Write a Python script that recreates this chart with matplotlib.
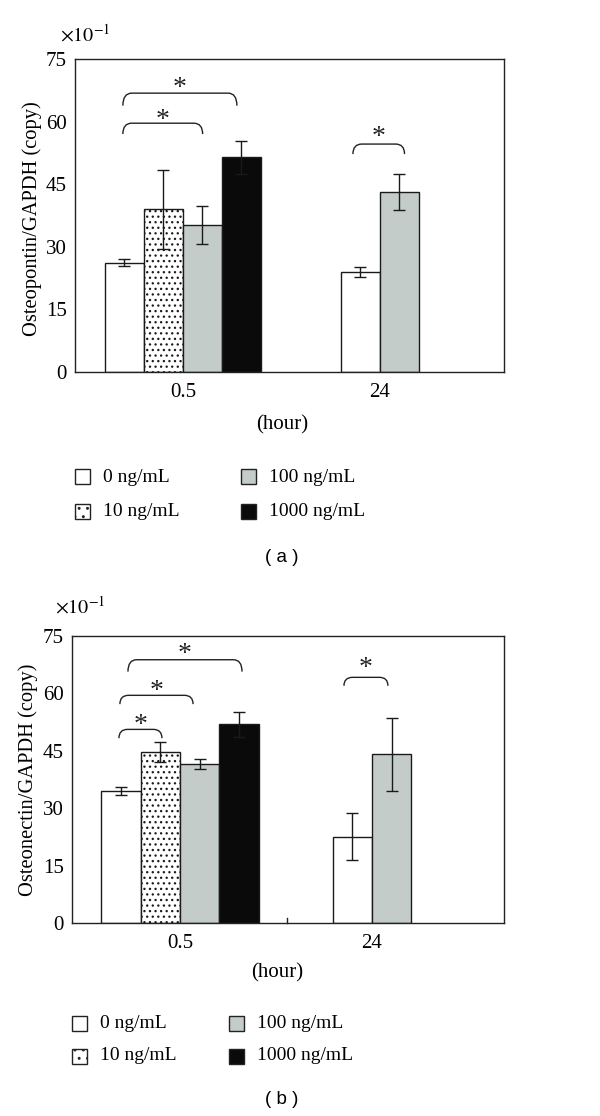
import matplotlib
matplotlib.use("Agg")
import matplotlib.pyplot as plt
import numpy as np
from matplotlib.patches import Rectangle
from matplotlib.path import Path
from matplotlib.patches import PathPatch

plt.rcParams['font.family'] = ['Liberation Serif', 'DejaVu Serif']
plt.rcParams['mathtext.fontset'] = 'stix'
plt.rcParams['hatch.linewidth'] = 0.9

# ---------------- data ----------------
categories = ['0.5', '24']
concentrations = ['0 ng/mL', '10 ng/mL', '100 ng/mL', '1000 ng/mL']

# Panel (a) Osteopontin/GAPDH (x10^-1)
opn_05 = [26.2, 39.0, 35.2, 51.4]
opn_05_err = [0.9, 9.5, 4.6, 4.0]
opn_24 = [24.0, 43.1]          # 0 and 100 ng/mL
opn_24_err = [1.2, 4.3]

# Panel (b) Osteonectin/GAPDH (x10^-1)
onc_05 = [34.5, 44.7, 41.6, 51.9]
onc_05_err = [0.95, 2.7, 1.3, 3.2]
onc_24 = [22.6, 44.1]
onc_24_err = [6.1, 9.5]

# significance brackets: (x_left, x_right, y_top, y_end, y_star)
brackets_a = [(-0.305, 0.100, 59.6, 57.0, 61.3), (-0.305, 0.274, 66.8, 63.8, 68.9),
              (0.863, 1.125, 54.6, 52.2, 57.2)]
brackets_b = [(-0.318, -0.094, 50.6, 48.3, 52.9), (-0.313, 0.068, 59.5, 57.2, 61.7),
              (-0.271, 0.323, 68.8, 65.7, 71.3), (0.854, 1.083, 64.2, 62.0, 67.7)]

fills = ['white', 'white', '#c4ccc9', '#0a0a0a']
hatches = [None, '...', None, None]

fig = plt.figure(figsize=(6.0, 11.16), dpi=100)


def bracket(ax, x1, x2, ytop, yend, ystar, rx, ppu):
    verts = [(x1, yend), (x1, ytop), (x1 + rx, ytop), (x2 - rx, ytop), (x2, ytop), (x2, yend)]
    codes = [Path.MOVETO, Path.CURVE3, Path.CURVE3, Path.LINETO, Path.CURVE3, Path.CURVE3]
    ax.add_patch(PathPatch(Path(verts, codes), fill=False, lw=1.0, edgecolor='#222222'))
    ax.text((x1 + x2) / 2, ystar - 4.5 / ppu, '*', ha='center', va='center', fontsize=20, color='#222222')


def panel(rect, vals05, err05, vals24, err24, brackets, ylabel, xlim, bw,
          ylab_xy, xlab_xy, mult_xy, leg_y, leg_x, letter, letter_y, xmid_tick=None):
    ax = fig.add_axes(rect)
    ppu = rect[3] * 1116 / 75.0
    n = len(vals05)
    x05 = (np.arange(n) - (n - 1) / 2) * bw
    x24 = 1 + (np.arange(len(vals24)) - (len(vals24) - 1) / 2) * bw
    ek = dict(ecolor='#1a1a1a', elinewidth=1.0, capsize=4.5, capthick=1.0)
    for i in range(n):
        ax.bar(x05[i], vals05[i], width=bw, color=fills[i], hatch=hatches[i],
               edgecolor='#1a1a1a', linewidth=1.0, zorder=2)
        ax.errorbar(x05[i], vals05[i], yerr=err05[i], fmt='none', zorder=3, **ek)
    idx24 = [0, 2]
    for j, i in enumerate(idx24):
        ax.bar(x24[j], vals24[j], width=bw, color=fills[i], hatch=hatches[i],
               edgecolor='#1a1a1a', linewidth=1.0, zorder=2)
        ax.errorbar(x24[j], vals24[j], yerr=err24[j], fmt='none', zorder=3, **ek)
    for b in brackets:
        bracket(ax, *b, rx=0.045, ppu=ppu)
    ax.set_xlim(*xlim)
    ax.set_ylim(0, 75)
    ax.set_yticks([0, 15, 30, 45, 60, 75])
    ax.set_yticklabels(['0', '15', '30', '45', '60', '75'], fontsize=15)
    ax.set_xticks([0, 1])
    ax.set_xticklabels(categories, fontsize=15)
    ax.tick_params(axis='both', length=0)
    ax.tick_params(axis='y', pad=6)
    ax.tick_params(axis='x', pad=8)
    for s in ax.spines.values():
        s.set_linewidth(1.0)
        s.set_color('#222222')
    if xmid_tick is not None:
        ax.plot([xmid_tick, xmid_tick], [0, 1.2], color='#222222', lw=1.0, clip_on=False)
    ax.text(ylab_xy[0], ylab_xy[1], ylabel, rotation=90, ha='center', va='center',
            fontsize=14.8, transform=ax.transAxes)
    ax.text(xlab_xy[0], xlab_xy[1], '(hour)', ha='center', va='center',
            fontsize=15, transform=ax.transAxes)
    fig.text(mult_xy[0], mult_xy[1], r'$\times 10^{-1}$', ha='left', va='center', fontsize=14.5)
    # legend
    W, H = 600.0, 1116.0
    sq = 15
    pos = [(leg_x[0], leg_y[0]), (leg_x[0], leg_y[1]), (leg_x[1], leg_y[0]), (leg_x[1], leg_y[1])]
    for i, (px, py) in enumerate(pos):
        fig.add_artist(Rectangle((px / W, 1 - (py + sq / 2) / H), sq / W, sq / H,
                                 transform=fig.transFigure, facecolor=fills[i],
                                 hatch=('..' if hatches[i] else None),
                                 edgecolor='#222222', linewidth=1.0))
        fig.text((px + 28) / W, 1 - py / H, concentrations[i], ha='left', va='center', fontsize=14)
    fig.text(0.47, 1 - letter_y / 1116.0, '( ' + letter + ' )', ha='center', va='center',
             fontsize=13.5, family=['Liberation Sans', 'DejaVu Sans'])
    return ax


panel([0.125, 0.6667, 0.715, 0.2805], opn_05, opn_05_err, opn_24, opn_24_err, brackets_a,
      'Osteopontin/GAPDH (copy)', (-0.548, 1.630), 0.198,
      (-0.100, 0.49), (0.482, -0.169), (60 / 600, 1 - 35 / 1116), (477, 511), (75, 241), 'a', 558)

panel([0.12, 0.1729, 0.72, 0.2572], onc_05, onc_05_err, onc_24, onc_24_err, brackets_b,
      'Osteonectin/GAPDH (copy)', (-0.5625, 1.6875), 0.205,
      (-0.102, 0.498), (0.474, -0.174), (55 / 600, 1 - 607 / 1116), (1023, 1056), (72, 229), 'b', 1100,
      xmid_tick=0.557)

fig.savefig('out.png', dpi=100, facecolor='white')
